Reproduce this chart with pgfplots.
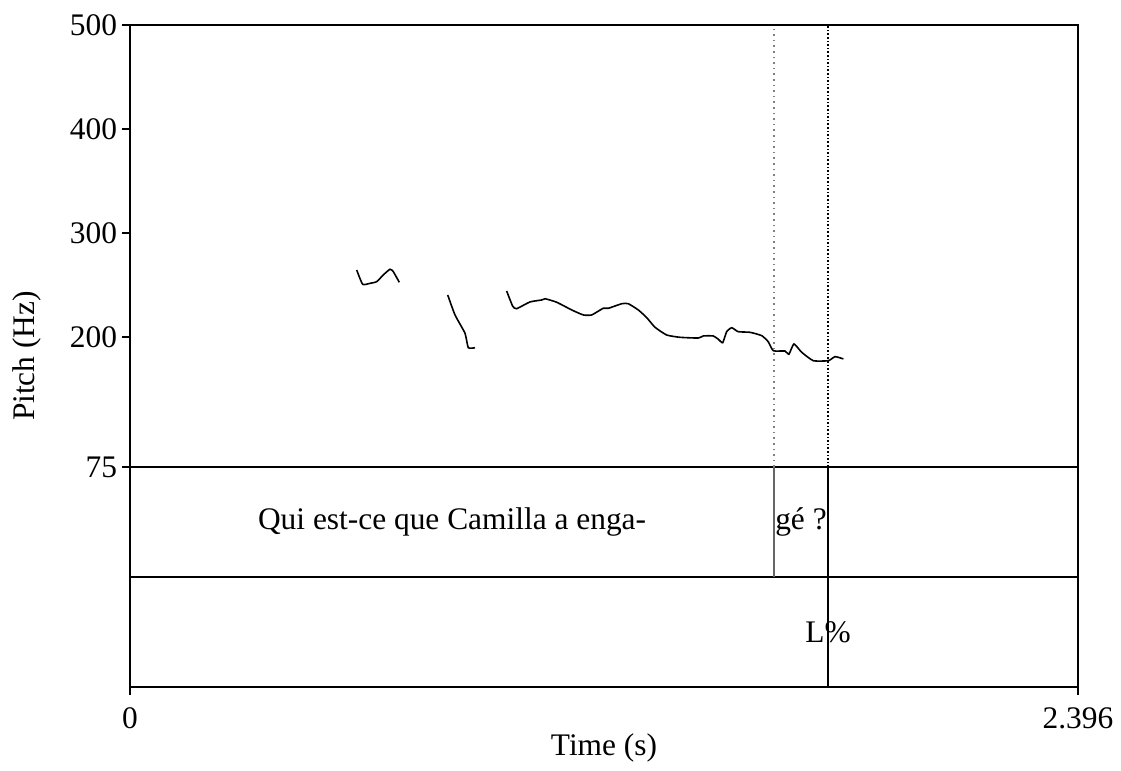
\documentclass[border=0pt]{standalone}
\usepackage{fontspec}
\setmainfont{Liberation Serif}
\usepackage{pgfplots}
\pgfplotsset{compat=1.18}
\begin{document}
\fontsize{15.7pt}{19pt}\selectfont
\begin{tikzpicture}
\useasboundingbox (-65pt,-42pt) rectangle (495.5pt,343.5pt);
\begin{axis}[at={(0,0)}, anchor=south west, scale only axis,
  width=474pt, height=331pt,
  xmin=0, xmax=2.396, ymin=-136.54, ymax=500,
  xtick={0,2.396}, xticklabels={0,2.396},
  ytick={75,200,300,400,500},
  tick pos=left, tick align=outside, major tick length=3.8pt,
  axis line style={line width=1pt},
  every tick/.style={black, line width=1pt},
  font=\fontsize{15.7pt}{19pt}\selectfont,
  /pgf/number format/assume math mode=true,
  yticklabel style={inner sep=2.5pt},
  xticklabel style={inner sep=2pt, yshift=-4.5pt},
  xlabel={Time (s)}, ylabel={Pitch (Hz)},
  xlabel style={at={(axis description cs:0.5,-0.092)}, anchor=center},
  ylabel style={at={(axis description cs:-0.1085,0.5)}, anchor=center},
  clip=false]
% tier separators
\draw[line width=1pt] (axis cs:0,75) -- (axis cs:2.396,75);
\draw[line width=1pt] (axis cs:0,-30.77) -- (axis cs:2.396,-30.77);
% boundaries in pitch area (dotted)
\draw[gray, dotted, line width=0.8pt] (axis cs:1.6277,75) -- (axis cs:1.6277,500);
\draw[black, densely dotted, line width=0.8pt] (axis cs:1.7641,75) -- (axis cs:1.7641,500);
% boundaries in tiers
\draw[gray!80!black, line width=1pt] (axis cs:1.6277,75) -- (axis cs:1.6277,-30.77);
\draw[black, line width=1pt] (axis cs:1.7641,75) -- (axis cs:1.7641,-136.54);
% pitch contour
\addplot[black, line width=0.8pt, no markers, smooth, tension=0.3] coordinates {
(0.573,264.4) (0.588,250.7) (0.6066,251.6) (0.6235,253.2) (0.640,259.6) (0.657,265.1) (0.6655,262.8) (0.6806,252.6)
};
\addplot[black, line width=0.8pt, no markers, smooth, tension=0.3] coordinates {
(0.803,240.4) (0.8214,221.2) (0.8467,203.6) (0.855,189.7) (0.872,189.7)
};
\addplot[black, line width=0.8pt, no markers, smooth, tension=0.3] coordinates {
(0.952,244.2) (0.967,229.8) (0.977,227.2) (1.011,233.7) (1.0405,235.6) (1.049,236.8)
(1.0785,233.4) (1.1164,226.0) (1.1457,221.2) (1.167,221.2) (1.196,227.6) (1.209,227.6)
(1.243,232.0) (1.2594,232.0) (1.2847,226.0) (1.306,218.6) (1.327,209.3) (1.3565,201.9)
(1.390,199.7) (1.4363,199.0) (1.449,201.0) (1.474,201.0) (1.487,197.8) (1.498,194.5)
(1.508,205.1) (1.5208,208.9) (1.5374,205.1) (1.567,204.5) (1.5966,201.3) (1.613,195.5)
(1.626,186.8) (1.6554,186.5) (1.6654,183.4) (1.678,193.3) (1.6977,185.3) (1.727,177.2)
(1.765,177.2) (1.782,181.1) (1.803,178.9)
};
% tier texts
\node at (axis cs:0.814,22.1) {Qui est-ce que Camilla a enga-};
\node at (axis cs:1.6959,22.1) {gé ?};
\node at (axis cs:1.7641,-83.65) {L\%};
\end{axis}
\end{tikzpicture}
\end{document}
